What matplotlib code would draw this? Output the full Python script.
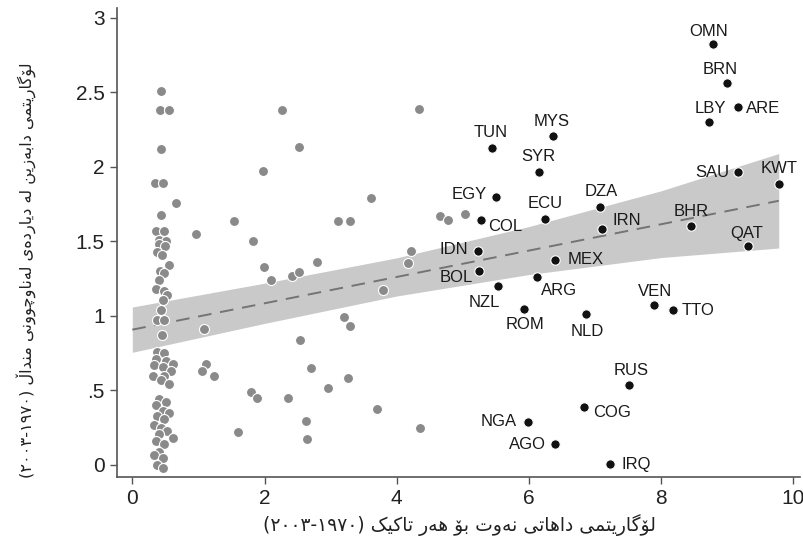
import matplotlib
matplotlib.use('agg')
import matplotlib.pyplot as plt

# gray dots: countries without oil labels
gray_x = [0.44, 0.42, 0.55, 0.43, 0.34, 0.47, 0.66, 0.43, 0.36, 0.48, 0.41, 0.51, 0.40, 0.50,
          0.38, 0.45, 0.56, 0.42, 0.48, 0.41, 0.36, 0.48, 0.53, 0.46, 0.43, 0.38, 0.48, 0.45,
          0.38, 0.48, 0.36, 0.51, 0.61, 0.33, 0.46, 0.58, 0.31, 0.48, 0.43, 0.56,
          0.41, 0.51, 0.36, 0.46, 0.56, 0.38, 0.48, 0.33, 0.43, 0.53, 0.41, 0.61, 0.36, 0.48,
          0.41, 0.33, 0.46, 0.38, 0.46,
          2.27, 4.34, 2.52, 1.98, 3.61, 1.54, 3.11, 3.30, 0.96, 1.83, 4.66, 4.77, 5.03, 1.99,
          2.79, 2.10, 2.41, 2.52, 4.21, 4.17, 3.79, 1.09, 3.21, 3.30, 2.53, 1.11, 1.05, 1.23,
          2.71, 3.26, 2.96, 1.79, 1.89, 2.35, 2.63, 2.64, 1.60, 3.70, 4.35]
gray_y = [2.51, 2.38, 2.38, 2.12, 1.89, 1.89, 1.76, 1.68, 1.57, 1.57, 1.51, 1.50, 1.48, 1.47,
          1.43, 1.41, 1.34, 1.30, 1.29, 1.24, 1.18, 1.17, 1.14, 1.11, 1.04, 0.97, 0.97, 0.87,
          0.76, 0.75, 0.71, 0.70, 0.68, 0.67, 0.66, 0.63, 0.60, 0.60, 0.57, 0.54,
          0.44, 0.42, 0.40, 0.36, 0.35, 0.33, 0.31, 0.27, 0.25, 0.23, 0.21, 0.18, 0.16, 0.14,
          0.09, 0.07, 0.05, 0.00, -0.02,
          2.38, 2.39, 2.135, 1.976, 1.79, 1.64, 1.634, 1.634, 1.55, 1.50, 1.672, 1.645, 1.686, 1.326,
          1.364, 1.24, 1.268, 1.297, 1.436, 1.357, 1.173, 0.912, 0.993, 0.93, 0.84, 0.68, 0.63, 0.60,
          0.654, 0.582, 0.515, 0.49, 0.447, 0.447, 0.297, 0.173, 0.218, 0.375, 0.25]

# black dots: oil producers
codes = ['OMN', 'BRN', 'LBY', 'ARE', 'TUN', 'MYS', 'SYR', 'SAU', 'KWT', 'EGY',
         'DZA', 'ECU', 'COL', 'IRN', 'BHR', 'QAT', 'IDN', 'MEX', 'BOL', 'NZL',
         'ARG', 'ROM', 'NLD', 'VEN', 'TTO', 'RUS', 'COG', 'NGA', 'AGO', 'IRQ']
oil_x = [8.78, 9.00, 8.73, 9.17, 5.44, 6.36, 6.15, 9.17, 9.78, 5.50,
         7.08, 6.24, 5.28, 7.10, 8.45, 9.32, 5.23, 6.40, 5.25, 5.53,
         6.12, 5.92, 6.87, 7.90, 8.18, 7.51, 6.83, 5.99, 6.39, 7.23]
oil_y = [2.823, 2.562, 2.301, 2.403, 2.124, 2.205, 1.969, 1.964, 1.888, 1.796,
         1.733, 1.652, 1.643, 1.587, 1.605, 1.468, 1.436, 1.376, 1.303, 1.200,
         1.261, 1.045, 1.011, 1.072, 1.043, 0.537, 0.389, 0.290, 0.140, 0.005]

# fitted line and confidence band
fit_x = [0, 9.78]
fit_y = [0.908, 1.773]
band_x = [0, 2, 4, 6, 8, 9.78]
band_hi = [1.06, 1.22, 1.39, 1.60, 1.84, 2.09]
band_lo = [0.756, 0.95, 1.134, 1.278, 1.392, 1.456]

# label placement (pixel offset, alignment)
label_pos = {
    'OMN': (-4, 13, 'center'), 'BRN': (-7, 14, 'center'), 'LBY': (1, 14, 'center'),
    'ARE': (8, -2, 'left'), 'TUN': (-1, 16, 'center'), 'MYS': (-1, 15, 'center'),
    'SYR': (0, 15, 'center'), 'SAU': (-9, 0, 'right'), 'KWT': (0, 15, 'center'),
    'EGY': (-9, 3, 'right'), 'DZA': (1, 15, 'center'), 'ECU': (0, 15, 'center'),
    'COL': (7, -6, 'left'), 'IRN': (11, 8, 'left'), 'BHR': (0, 14, 'center'),
    'QAT': (-2, 13, 'center'), 'IDN': (-10, 1, 'right'), 'MEX': (12, 0, 'left'),
    'BOL': (-6, -7, 'right'), 'NZL': (-14, -16, 'center'), 'ARG': (4, -13, 'left'),
    'ROM': (1, -15, 'center'), 'NLD': (1, -17, 'center'), 'VEN': (1, 14, 'center'),
    'TTO': (9, -1, 'left'), 'RUS': (2, 14, 'center'), 'COG': (9, -6, 'left'),
    'NGA': (-11, 0, 'right'), 'AGO': (-9, 0, 'right'), 'IRQ': (11, 0, 'left'),
}

# Arabic-script labels (matplotlib has no shaping, so build presentation forms by hand)
FORMS = {
    'ا': ('\uFE8D', '\uFE8E', None, None),
    'ب': ('\uFE8F', '\uFE90', '\uFE91', '\uFE92'),
    'ت': ('\uFE95', '\uFE96', '\uFE97', '\uFE98'),
    'د': ('\uFEA9', '\uFEAA', None, None),
    'ر': ('\uFEAD', '\uFEAE', None, None),
    'ز': ('\uFEAF', '\uFEB0', None, None),
    'ل': ('\uFEDD', '\uFEDE', '\uFEDF', '\uFEE0'),
    'م': ('\uFEE1', '\uFEE2', '\uFEE3', '\uFEE4'),
    'ن': ('\uFEE5', '\uFEE6', '\uFEE7', '\uFEE8'),
    'ه': ('\uFEE9', '\uFEEA', '\uFEEB', '\uFEEC'),
    'و': ('\uFEED', '\uFEEE', None, None),
    'ی': ('\uFBFC', '\uFBFD', '\uFBFE', '\uFBFF'),
    'ک': ('\uFB8E', '\uFB8F', '\uFB90', '\uFB91'),
    'گ': ('\uFB92', '\uFB93', '\uFB94', '\uFB95'),
    'چ': ('\uFB7A', '\uFB7B', '\uFB7C', '\uFB7D'),
    'ۆ': ('\uFBD9', '\uFBDA', None, None),
    'ە': ('\u06D5', '\uFEEA', None, None),
    'ێ': ('\u06CE', '\u06CE', '\uFBFE', '\uFBFF'),
    'ڵ': ('\u06B5', '\u06B5', '\u06B5', '\u06B5'),
}


def shape(text):
    out = []
    for i, ch in enumerate(text):
        if ch not in FORMS:
            out.append(ch)
            continue
        prev = text[i - 1] if i > 0 else ''
        nxt = text[i + 1] if i + 1 < len(text) else ''
        jp = prev in FORMS and FORMS[prev][2] is not None
        jn = FORMS[ch][2] is not None and nxt in FORMS
        iso, fin, ini, med = FORMS[ch]
        out.append(med if jp and jn else fin if jp else ini if jn else iso)
    return ''.join(out)[::-1]


def rtl_label(words, start, end):
    return '(' + end + '-' + start + ') ' + shape(words)


xlabel = rtl_label('لۆگاریتمی داهاتی نەوت بۆ هەر تاکێک', '١٩٧٠', '٢٠٠٣')
ylabel = rtl_label('لۆگاریتمی دابەزین لە دیاردەی لەناوچوونی منداڵ', '١٩٧٠', '٢٠٠٣')

plt.rcParams['font.family'] = ['Liberation Sans', 'DejaVu Sans']

fig = plt.figure(figsize=(8.04, 5.51), dpi=100)
ax = fig.add_axes([0.1459, 0.1348, 0.849, 0.8507])

ax.fill_between(band_x, band_lo, band_hi, color='#c9c9c9', lw=0, zorder=1)
ax.plot(fit_x, fit_y, color='#747474', lw=1.4, dashes=(7, 4.5), zorder=2)
ax.scatter(gray_x, gray_y, s=52, color='#8a8a8a', edgecolors='white', linewidths=0.8, zorder=3)
ax.scatter(oil_x, oil_y, s=46, color='#111111', edgecolors='white', linewidths=0.8, zorder=4)

for c, x, y in zip(codes, oil_x, oil_y):
    dx, dy, ha = label_pos[c]
    ax.annotate(c, (x, y), xytext=(dx * 0.72, dy * 0.72), textcoords='offset points',
                ha=ha, va='center', fontsize=12, color='#1a1a1a', zorder=5)

ax.set_xlim(-0.227, 10.1)
ax.set_ylim(-0.079, 3.067)
ax.set_xticks([0, 2, 4, 6, 8, 10])
ax.set_yticks([0, 0.5, 1, 1.5, 2, 2.5, 3], ['0', '.5', '1', '1.5', '2', '2.5', '3'])
ax.tick_params(labelsize=15, length=5, width=1, color='#555555', labelcolor='#222222', pad=4)
for s in ['top', 'right']:
    ax.spines[s].set_visible(False)
for s in ['left', 'bottom']:
    ax.spines[s].set_color('#555555')
    ax.spines[s].set_linewidth(1.2)

fig.text(0.572, 0.047, xlabel, ha='center', va='center', fontsize=13.5,
         family=['DejaVu Sans'], color='#222222')
fig.text(0.033, 0.51, ylabel, ha='center', va='center', fontsize=11.7, rotation=90,
         family=['DejaVu Sans'], color='#222222')

fig.savefig('out.png', dpi=100)
